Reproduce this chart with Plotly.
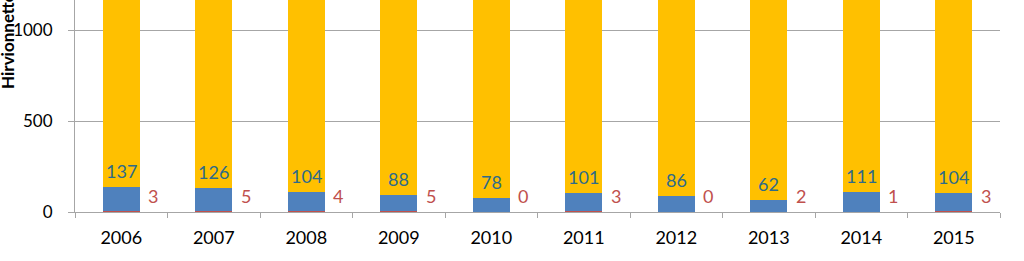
import plotly.graph_objects as go

years = ["2006", "2007", "2008", "2009", "2010", "2011", "2012", "2013", "2014", "2015"]
blue_vals = [137, 126, 104, 88, 78, 101, 86, 62, 111, 104]
red_vals = [3, 5, 4, 5, 0, 3, 0, 2, 1, 3]
yellow_vals = [1650, 1600, 1550, 1500, 1450, 1550, 1500, 1450, 1500, 1550]

FONT = "Lato"
fig = go.Figure()
fig.add_bar(x=years, y=red_vals, marker_color="#C0504D", marker_line_width=0, name="red")
fig.add_bar(x=years, y=blue_vals, marker_color="#4F81BD", marker_line_width=0, name="blue")
fig.add_bar(x=years, y=yellow_vals, marker_color="#FFC000", marker_line_width=0, name="yellow")

for i, (b, r) in enumerate(zip(blue_vals, red_vals)):
    fig.add_annotation(x=i, y=b + r, text=str(b), showarrow=False, yanchor="bottom",
                       yshift=3, font=dict(family=FONT, size=18, color="#2E6B8A"))
    fig.add_annotation(x=i, y=0, text=str(r), showarrow=False, yanchor="middle",
                       xshift=32, yshift=16, font=dict(family=FONT, size=18, color="#C0504D"))

fig.add_annotation(xref="paper", yref="paper", x=0, xshift=-67, y=(212 - 91) / 212,
                   xanchor="center", yanchor="bottom", textangle=-90, showarrow=False,
                   text="<b>Hirvionnettomuudet</b>", font=dict(family=FONT, size=17, color="#000"))

fig.update_layout(
    barmode="stack", bargap=0.6, showlegend=False,
    width=1024, height=261, margin=dict(l=75, r=24, t=0, b=49),
    plot_bgcolor="white", paper_bgcolor="white",
    font=dict(family=FONT, size=18, color="#000"),
)
fig.update_xaxes(type="category", range=[-0.5, 9.5], showline=True, linecolor="#A6A6A6", linewidth=1,
                 ticks="outside", tickson="boundaries", ticklen=5, tickcolor="#A6A6A6",
                 ticklabelstandoff=9, tickfont=dict(family=FONT, size=18))
fig.update_yaxes(range=[0, 1165], tickvals=[0, 500, 1000], showline=True, linecolor="#A6A6A6",
                 gridcolor="#A6A6A6", gridwidth=1, ticks="outside", ticklen=6, tickcolor="#A6A6A6",
                 ticklabelstandoff=12, zeroline=False, tickfont=dict(family=FONT, size=17))

fig.write_html("out.html")
